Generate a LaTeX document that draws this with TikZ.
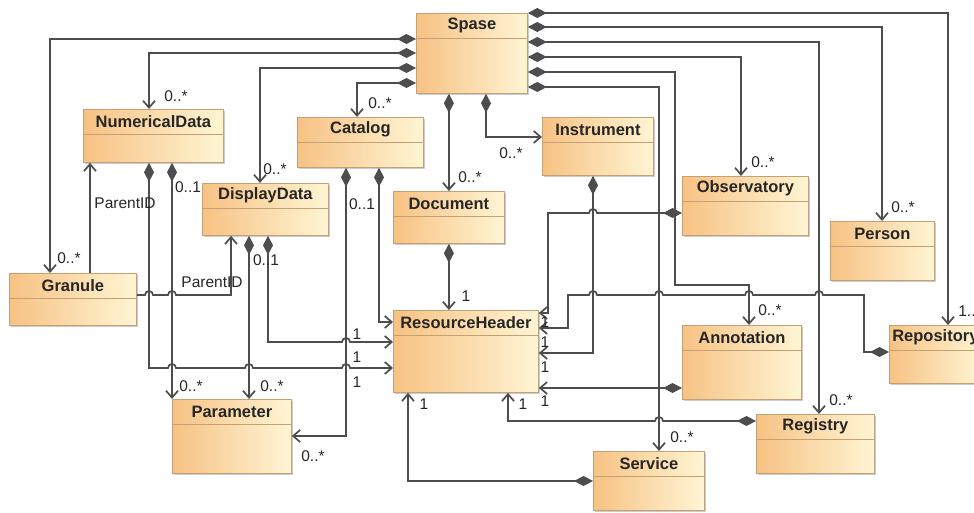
\documentclass[tikz,border=0pt]{standalone}
\usepackage{fontspec}
\setmainfont{Liberation Sans}
\usetikzlibrary{arrows.meta}
\usetikzlibrary{shadows}
\definecolor{umlorange}{HTML}{F7C284}
\definecolor{umlcream}{HTML}{FFF5D4}
\definecolor{umlborder}{HTML}{C4A074}
\definecolor{linegray}{HTML}{4D4D4D}
\tikzset{>={Straight Barb[length=7pt,width=12pt]}}

\begin{document}
\begin{tikzpicture}[x=1pt,y=1pt,
  classbox/.style={draw=umlborder, line width=0.8pt, left color=umlorange,
    right color=umlcream, anchor=north west, inner sep=0pt,
    drop shadow={shadow xshift=2pt, shadow yshift=-2pt, fill=black!40, opacity=.5}},
  classline/.style={draw=umlborder, line width=0.8pt},
  classtitle/.style={font=\fontsize{16.5}{18}\selectfont\bfseries, text=black!85, inner sep=0pt},
  comp/.style={draw=linegray, line width=1.7pt, line join=miter,
    {Diamond[length=19pt,width=10pt,fill=linegray]}->},
  assoc/.style={draw=linegray, line width=1.7pt, ->},
  mult/.style={font=\fontsize{15.5}{17}\selectfont, text=black!85, inner sep=0pt}]
  \clip (0,0) rectangle (974,-513);
  % Draw classes: name/left/top/width/height/title
  \foreach \nm/\x/\y/\w/\h/\ttl in {
      spase/416/13/111/80/Spase, numdata/83/109/140/53/NumericalData,
      catalog/297/117/126/50/Catalog, instrument/542/117/111/58/Instrument,
      display/202/183/126/52/DisplayData, document/393/191/111/52/Document,
      observatory/682/176/126/59/Observatory, person/830/221/104/59/Person,
      granule/9/273/127/52/Granule, resheader/393/310/145/82/ResourceHeader,
      annotation/682/325/119/74/Annotation, repository/889/325/92/58/Repository,
      parameter/172/399/119/74/Parameter, registry/756/414/118/59/Registry,
      service/593/451/111/59/Service} {
    \node[classbox, minimum width=\w, minimum height=\h] (\nm) at (\x,-\y) {};
    \draw[classline] ([yshift=-25]\nm.north west) -- ([yshift=-25]\nm.north east);
    \node[classtitle] (\nm-title) at ([yshift=-12.5]\nm.north) {\ttl}; }
  % Draw compositions of Spase, left and bottom
  \draw[comp] ([yshift=-26]spase.north west) -| ([xshift=41]granule.north west);
  \draw[comp] ([yshift=-40]spase.north west) -| ([xshift=66]numdata.north west);
  \draw[comp] ([yshift=-55]spase.north west) -| ([xshift=58]display.north west);
  \draw[comp] ([yshift=-70]spase.north west) -| ([xshift=60]catalog.north west);
  \draw[comp] (document.north |- spase.south) -- (document.north);
  \draw[comp] ([xshift=70]spase.south west) |- ([yshift=-20]instrument.north west);
  % Draw compositions of Spase, right
  \draw[comp] (spase.north east) -| ([xshift=59]repository.north west);
  \draw[comp] ([yshift=-14]spase.north east) -| ([xshift=52]person.north west);
  \draw[comp] ([yshift=-29]spase.north east) -| ([xshift=63]registry.north west);
  \draw[comp] ([yshift=-44]spase.north east) -| ([xshift=59]observatory.north west);
  \draw[comp] ([yshift=-59]spase.north east) -| (675,-285) -| ([xshift=67]annotation.north west);
  \draw[comp] ([yshift=-74]spase.north east) -| ([xshift=66]service.north west);
  % Draw links into ResourceHeader and Parameter, left
  \draw[comp] (document.south) -- (document.south |- resheader.north);
  \draw[comp] ([xshift=82]catalog.south west) |- ([yshift=-12]resheader.north west);
  \draw[comp] ([xshift=49]catalog.south west) |- ([yshift=-37]parameter.north east);
  \draw[comp] ([xshift=66]display.south west) |- (342,-342)
    arc[start angle=180,end angle=0,radius=4] -- ([yshift=-32]resheader.north west);
  \draw[comp] ([xshift=47]display.south west) -- ([xshift=77]parameter.north west);
  \draw[comp] ([xshift=66]numdata.south west) |- (168,-368)
    arc[start angle=180,end angle=0,radius=4] -- (245,-368)
    arc[start angle=180,end angle=0,radius=4] -- (342,-368)
    arc[start angle=180,end angle=0,radius=4] -- ([yshift=-58]resheader.north west);
  \draw[comp] ([xshift=89]numdata.south west) -- (parameter.north west);
  % Draw ParentID links
  \draw[assoc] ([xshift=81]granule.north west) -- ([xshift=7]numdata.south west);
  \draw[assoc] ([yshift=-22]granule.north east) -- (145,-295)
    arc[start angle=180,end angle=0,radius=4] -- (168,-295)
    arc[start angle=180,end angle=0,radius=4] -| ([xshift=29]display.south west);
  % Draw links into ResourceHeader, right and bottom
  \draw[comp] ([xshift=51]instrument.south west) |- ([yshift=-43]resheader.north east);
  \draw[comp] ([yshift=-37]observatory.north west) -- (597,-213)
    arc[start angle=0,end angle=180,radius=4] -- (548,-213) |- ([yshift=-3]resheader.north east);
  \draw[comp] ([yshift=-27]repository.north west) -| (864,-295) -- (823,-295)
    arc[start angle=0,end angle=180,radius=4] -- (753,-295)
    arc[start angle=0,end angle=180,radius=4] -- (663,-295)
    arc[start angle=0,end angle=180,radius=4] -- (597,-295)
    arc[start angle=0,end angle=180,radius=4] -- (568,-295) |- ([yshift=-18]resheader.north east);
  \draw[comp] ([yshift=-63]annotation.north west) -- ([yshift=-78]resheader.north east);
  \draw[comp] ([yshift=-7]registry.north west) -- (663,-421)
    arc[start angle=0,end angle=180,radius=4] -| ([xshift=115]resheader.south west);
  \draw[comp] ([yshift=-30]service.north west) -| ([xshift=15]resheader.south west);
  % Draw multiplicities and role names
  \foreach \x/\y/\txt [count=\i] in {
      69/258/0..*, 176/96/0..*, 275/169/0..*, 380/103/0..*, 470/177/0..*,
      511/153/0..*, 763/162/0..*, 903/207/0..*, 770/310/0..*, 970/311/1..*,
      841/400/0..*, 682/437/0..*, 188/187/0..1, 266/260/0..1, 362/204/0..1,
      125/203/ParentID, 212/282/ParentID, 466/296/1, 357/334/1, 357/357/1,
      357/382/1, 191/386/0..*, 272/386/0..*, 313/456/0..*, 545/322/1,
      545/342/1, 545/367/1, 545/401/1, 424/404/1, 523/404/1} {
    \node[mult] (mult\i) at (\x,-\y) {\txt}; }
\end{tikzpicture}
\end{document}
